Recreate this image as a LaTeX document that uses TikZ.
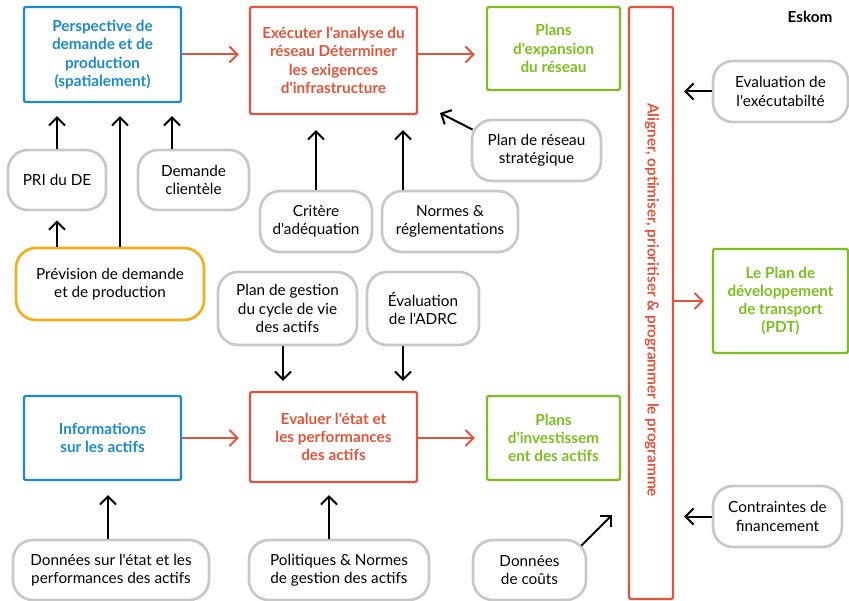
\documentclass[tikz,border=0pt]{standalone}
\usepackage{fontspec}
\setmainfont{Lato}[Ligatures=TeXOff]
\usetikzlibrary{arrows.meta}
\definecolor{cblue}{HTML}{1B8ACA}
\definecolor{cred}{HTML}{E0553A}
\definecolor{cgreen}{HTML}{7BBF1E}
\definecolor{corange}{HTML}{F2AE1C}
\definecolor{cgray}{HTML}{C8C8C8}
\begin{document}
\begin{tikzpicture}[x=1pt,y=-1pt,
  every node/.style={font=\fontsize{15.3}{18.3}\selectfont},
  bx/.style={draw, line width=2.3pt, rounded corners=1.5pt, align=center, inner sep=0pt, font=\fontsize{15.3}{18.3}\selectfont\bfseries},
  bluebox/.style={bx, draw=cblue, text=cblue},
  redbox/.style={bx, draw=cred, text=cred},
  greenbox/.style={bx, draw=cgreen, text=cgreen},
  pill/.style={draw=cgray, line width=2.7pt, rounded corners=20pt, align=center, inner sep=0pt, text=black},
  arr/.style={-{Straight Barb[length=8pt,width=16pt]}, line width=2pt},
  rarr/.style={arr, draw=cred},
]
\useasboundingbox (0,0) rectangle (849,601);
% boxes
\node[bluebox, minimum width=157pt, minimum height=95pt] (persp) at (102.5,54.5) {Perspective de\\demande et de\\production\\(spatialement)};
\node[redbox, minimum width=167pt, minimum height=107pt] (exec) at (333.5,60.5) {Exécuter l'analyse du\\réseau Déterminer\\les exigences\\d'infrastructure};
\node[greenbox, minimum width=133pt, minimum height=83pt] (exp) at (553.5,48.5) {Plans\\d'expansion\\du réseau};
\node[draw=cred, line width=2.3pt, rounded corners=1.5pt, minimum width=44pt, minimum height=592pt, inner sep=0pt] (bar) at (651,303) {};
\node[rotate=-90, text=cred, font=\fontsize{15.3}{18}\selectfont\bfseries] (bartext) at (652,300) {Aligner, optimiser, prioritiser \& programmer le programme};
\node[font=\fontsize{15.3}{18}\selectfont\bfseries] (eskom) at (810,17) {Eskom};
\node[pill, minimum width=135pt, minimum height=61pt] (evalx) at (780.5,91.5) {Evaluation de\\l'exécutabilté};
\node[pill, minimum width=129pt, minimum height=61pt] (strat) at (536.5,150.5) {Plan de réseau\\stratégique};
\node[pill, minimum width=98pt, minimum height=60pt] (pri) at (57,180) {PRI du DE};
\node[pill, minimum width=111pt, minimum height=60pt] (dem) at (193.5,180) {Demande\\clientèle};
\node[pill, draw=corange, minimum width=188pt, minimum height=72pt] (prev) at (110,284) {Prévision de demande\\et de production};
\node[pill, minimum width=112pt, minimum height=61pt] (crit) at (316,221.5) {Critère\\d'adéquation};
\node[pill, minimum width=136pt, minimum height=61pt] (normes) at (450,221.5) {Normes \&\\réglementations};
\node[pill, minimum width=139pt, minimum height=73pt] (gest) at (287.5,308.5) {Plan de gestion\\du cycle de vie\\des actifs};
\node[pill, minimum width=112pt, minimum height=73pt] (adrc) at (423,308.5) {Évaluation\\de l'ADRC};
\node[bluebox, minimum width=157pt, minimum height=84pt] (info) at (102.5,438) {Informations\\sur les actifs};
\node[redbox, minimum width=167pt, minimum height=90pt] (evalr) at (333.5,437) {Evaluer l'état et\\les performances\\des actifs};
\node[greenbox, minimum width=133pt, minimum height=84pt] (inv) at (553.5,438) {Plans\\d'investissem\\ent des actifs};
\node[greenbox, minimum width=135pt, minimum height=104pt] (pdt) at (780.5,301) {Le Plan de\\développement\\de transport\\(PDT)};
\node[pill, minimum width=129pt, minimum height=61pt] (contr) at (777.5,516.5) {Contraintes de\\financement};
\node[pill, minimum width=113pt, minimum height=60pt] (couts) at (529.5,570) {Données\\de coûts};
\node[pill, minimum width=196pt, minimum height=60pt] (donnees) at (111,570) {Données sur l'état et les\\performances des actifs};
\node[pill, minimum width=180pt, minimum height=60pt] (polit) at (339,570) {Politiques \& Normes\\de gestion des actifs};
\coordinate (stratend) at (440,113);
\coordinate (coutsend) at (612,515);
% red arrows
\draw[rarr, shorten >=10pt] (persp.east) -- (persp.east -| exec.west);
\draw[rarr, shorten >=11pt] (persp.east -| exec.east) -- (persp.east -| exp.west);
\draw[rarr, shorten >=10pt] (info.east) -- (info.east -| evalr.west);
\draw[rarr, shorten >=11pt] (info.east -| evalr.east) -- (info.east -| inv.west);
\draw[rarr, shorten >=8pt] (pdt.west -| bar.east) -- (pdt.west);
% black arrows
\draw[arr, shorten >=13pt] (pri.north) -- (pri.north |- persp.south);
\draw[arr, shorten >=13pt] ([xshift=-21.5pt]dem.north) -- ([xshift=-21.5pt]dem.north |- persp.south);
\draw[arr, shorten >=13pt] ([xshift=10pt]prev.north) -- ([xshift=10pt]prev.north |- persp.south);
\draw[arr, shorten >=9pt] (prev.north -| pri.south) -- (pri.south);
\draw[arr, shorten >=15pt] (crit.north) -- (crit.north |- exec.south);
\draw[arr, shorten >=15pt] ([xshift=-47pt]normes.north) -- ([xshift=-47pt]normes.north |- exec.south);
\draw[arr] ([shift={(2pt,-11pt)}]strat.north west) -- (stratend);
\draw[arr, shorten >=10pt] (evalx.west) -- (evalx.west -| bar.east);
\draw[arr, shorten >=10pt] (contr.west) -- (contr.west -| bar.east);
\draw[arr, shorten >=10pt] ([xshift=-4.5pt]gest.south) -- ([xshift=-4.5pt]gest.south |- evalr.north);
\draw[arr, shorten >=10pt] ([xshift=-20pt]adrc.south) -- ([xshift=-20pt]adrc.south |- evalr.north);
\draw[arr, shorten >=14pt] ([xshift=-3pt]donnees.north) -- ([xshift=-3pt]donnees.north |- info.south);
\draw[arr, shorten >=12pt] ([xshift=-10pt]polit.north) -- ([xshift=-10pt]polit.north |- evalr.south);
\draw[arr] ([shift={(-6pt,-7pt)}]couts.north east) -- (coutsend);
\end{tikzpicture}
\end{document}
